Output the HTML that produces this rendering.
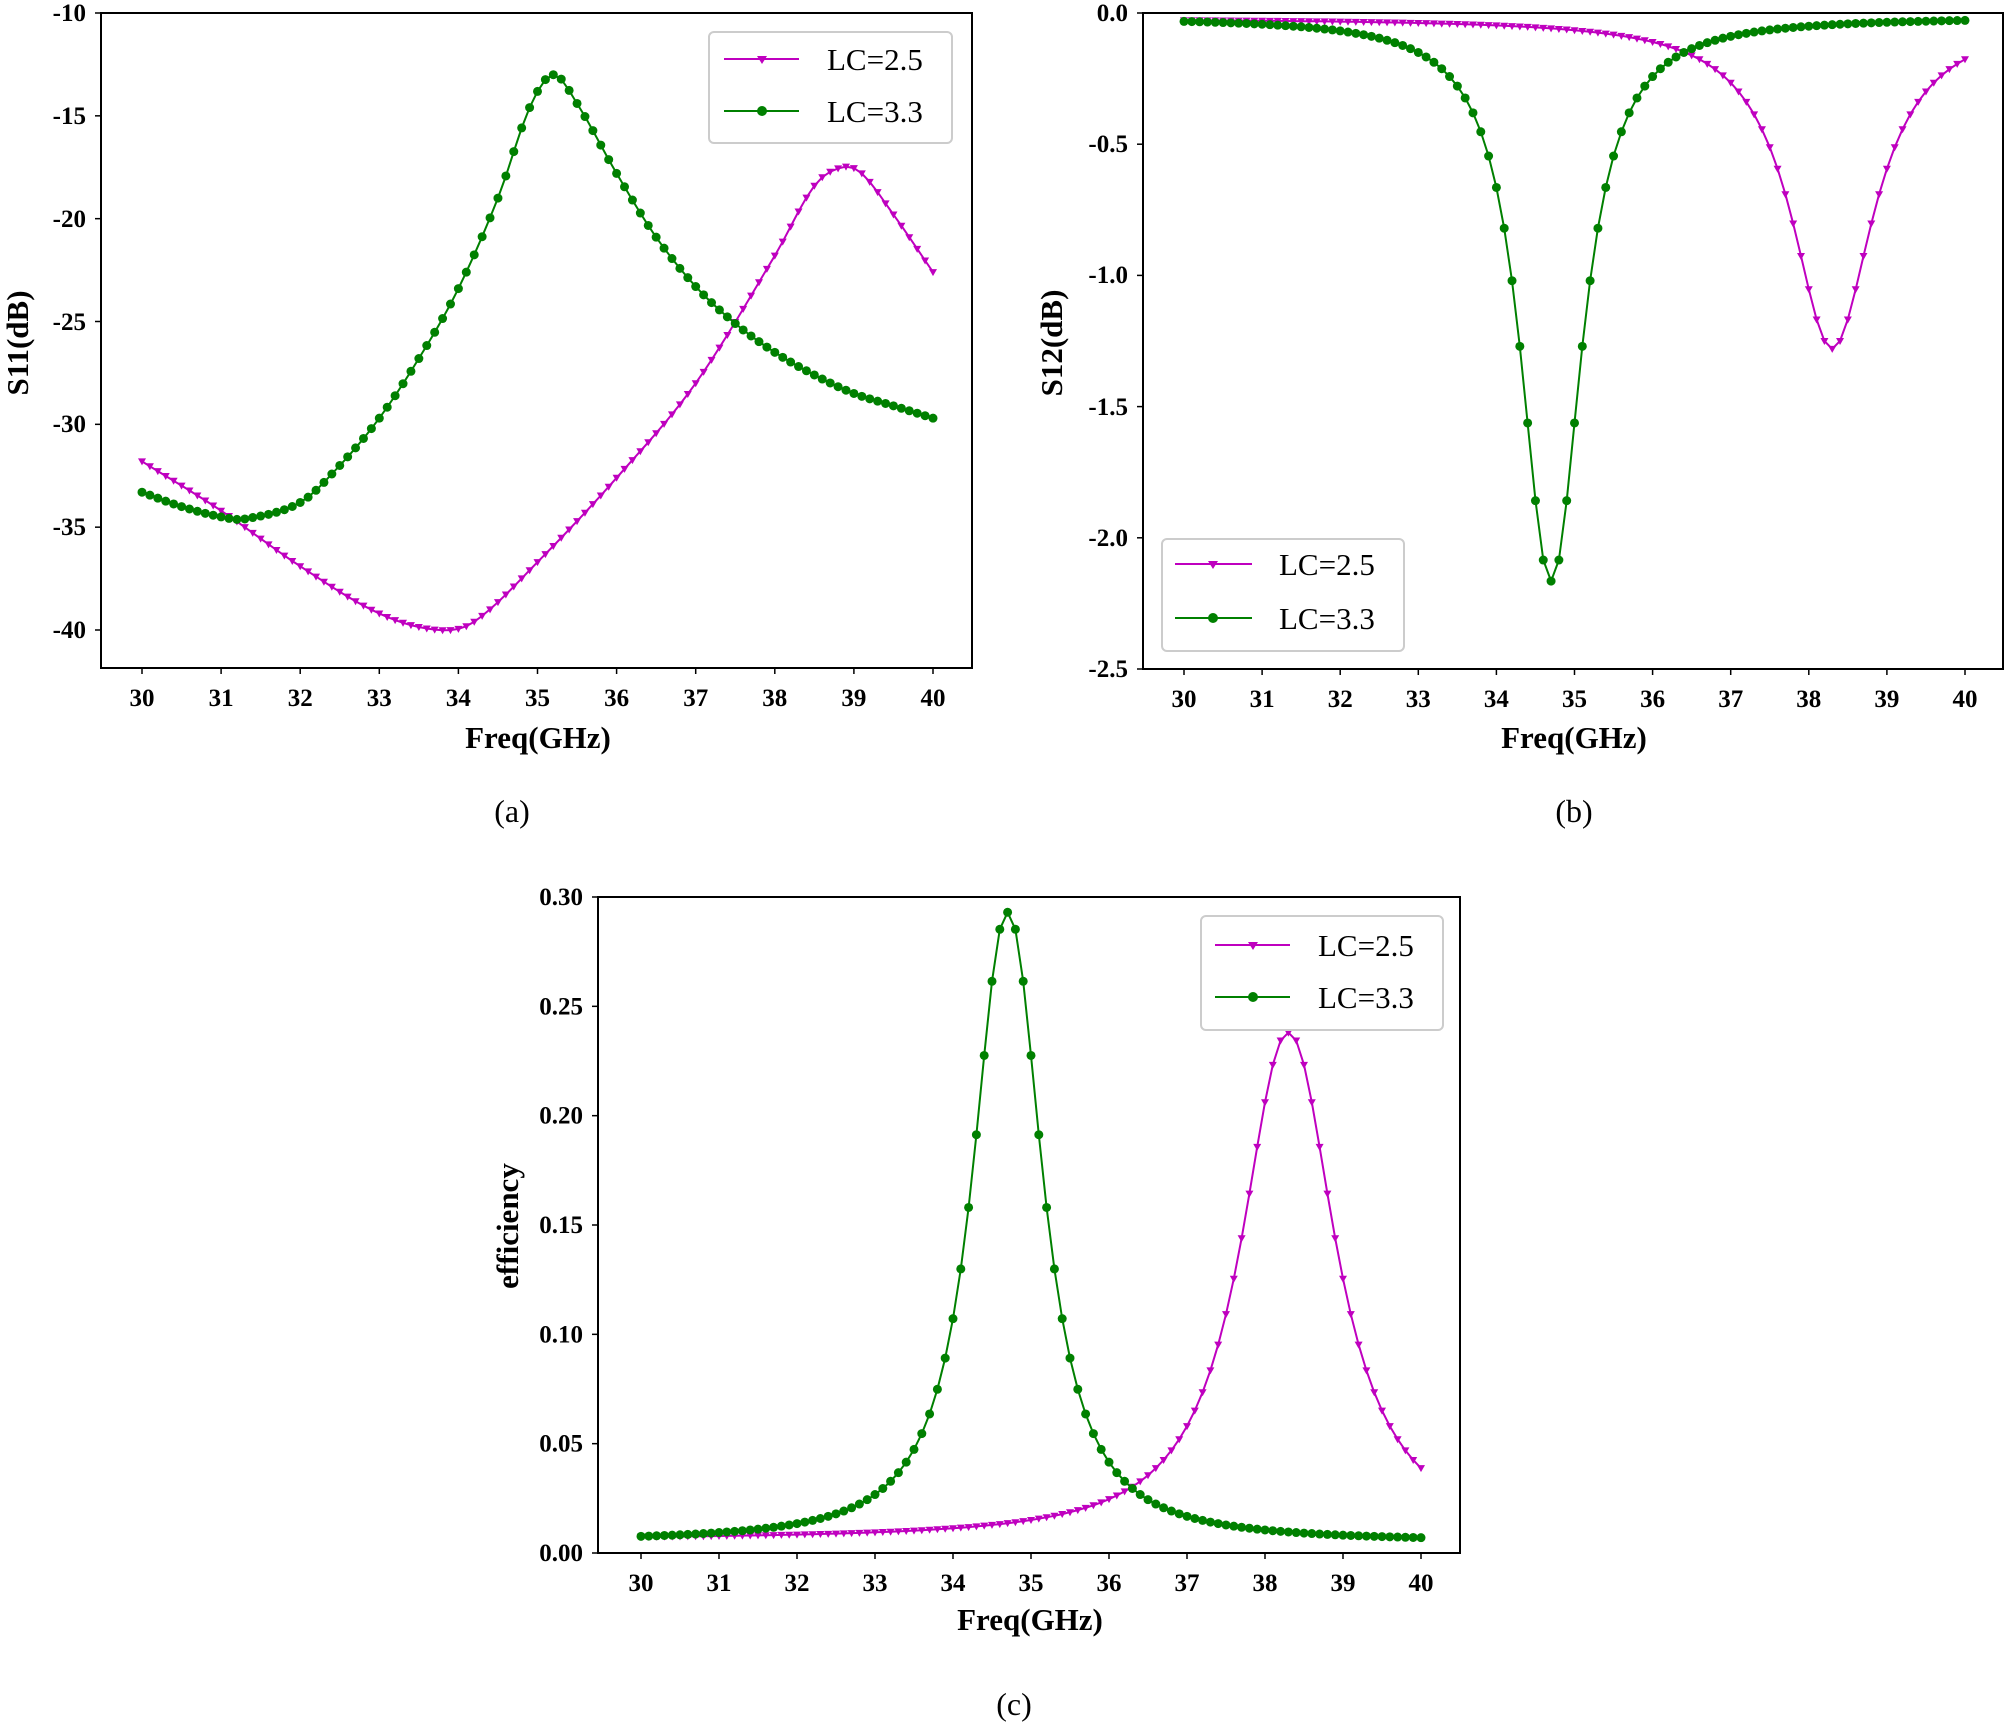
<!DOCTYPE html>
<html><head><meta charset="utf-8">
<style>
html,body{margin:0;padding:0;background:#fff;}
svg{display:block;}
.t{font-family:"Liberation Serif",serif;font-weight:bold;font-size:25px;fill:#000;}
.lab{font-family:"Liberation Serif",serif;font-weight:bold;font-size:31px;fill:#000;}
.leg{font-family:"Liberation Serif",serif;font-size:31px;fill:#000;}
.cap{font-family:"Liberation Serif",serif;font-size:32px;fill:#000;}
</style></head>
<body>
<svg id="s" width="2007" height="1728" xmlns="http://www.w3.org/2000/svg">
<rect width="2007" height="1728" fill="#fff"/>
<g id="ga"></g>
<rect x="101" y="13" width="871" height="655" fill="none" stroke="#000" stroke-width="2"/>
<g class="t" text-anchor="end">
<text x="86" y="21">-10</text><text x="86" y="124">-15</text><text x="86" y="227">-20</text>
<text x="86" y="330">-25</text><text x="86" y="432">-30</text><text x="86" y="535">-35</text><text x="86" y="638">-40</text>
</g>
<g class="t" text-anchor="middle" id="xa"></g>
<text class="lab" x="538" y="748" text-anchor="middle">Freq(GHz)</text>
<text class="lab" transform="translate(28,343) rotate(-90)" text-anchor="middle">S11(dB)</text>
<text class="cap" x="512" y="822" text-anchor="middle">(a)</text>
<rect x="709" y="32" width="243" height="111" rx="5" fill="#fff" stroke="#ccc" stroke-width="2"/>
<line x1="724" y1="59" x2="799" y2="59" stroke="#bf00bf" stroke-width="2"/>
<path d="M757,56 L767,56 L762,64 Z" fill="#bf00bf"/>
<text class="leg" x="827" y="70">LC=2.5</text>
<line x1="724" y1="111" x2="799" y2="111" stroke="#008000" stroke-width="2"/>
<circle cx="762" cy="111" r="5" fill="#008000"/>
<text class="leg" x="827" y="122">LC=3.3</text>

<g id="gb"></g>
<rect x="1143" y="13" width="860" height="656" fill="none" stroke="#000" stroke-width="2"/>
<g class="t" text-anchor="end">
<text x="1128" y="21">0.0</text><text x="1128" y="152">-0.5</text><text x="1128" y="283">-1.0</text>
<text x="1128" y="415">-1.5</text><text x="1128" y="546">-2.0</text><text x="1128" y="677">-2.5</text>
</g>
<g class="t" text-anchor="middle" id="xb"></g>
<text class="lab" x="1574" y="748" text-anchor="middle">Freq(GHz)</text>
<text class="lab" transform="translate(1062,343) rotate(-90)" text-anchor="middle">S12(dB)</text>
<text class="cap" x="1574" y="822" text-anchor="middle">(b)</text>
<rect x="1162" y="539" width="242" height="112" rx="5" fill="#fff" stroke="#ccc" stroke-width="2"/>
<line x1="1175" y1="564" x2="1252" y2="564" stroke="#bf00bf" stroke-width="2"/>
<path d="M1208,561 L1218,561 L1213,569 Z" fill="#bf00bf"/>
<text class="leg" x="1279" y="575">LC=2.5</text>
<line x1="1175" y1="618" x2="1252" y2="618" stroke="#008000" stroke-width="2"/>
<circle cx="1213" cy="618" r="5" fill="#008000"/>
<text class="leg" x="1279" y="629">LC=3.3</text>

<g id="gc"></g>
<rect x="598" y="897" width="862" height="656" fill="none" stroke="#000" stroke-width="2"/>
<g class="t" text-anchor="end" id="yc"></g>
<g class="t" text-anchor="middle" id="xc"></g>
<text class="lab" x="1030" y="1630" text-anchor="middle">Freq(GHz)</text>
<text class="lab" transform="translate(518,1226) rotate(-90)" text-anchor="middle">efficiency</text>
<text class="cap" x="1014" y="1715" text-anchor="middle">(c)</text>
<rect x="1201" y="916" width="242" height="114" rx="5" fill="#fff" stroke="#ccc" stroke-width="2"/>
<line x1="1215" y1="945" x2="1290" y2="945" stroke="#bf00bf" stroke-width="2"/>
<path d="M1248,942 L1258,942 L1253,950 Z" fill="#bf00bf"/>
<text class="leg" x="1318" y="956">LC=2.5</text>
<line x1="1215" y1="997" x2="1290" y2="997" stroke="#008000" stroke-width="2"/>
<circle cx="1253" cy="997" r="5" fill="#008000"/>
<text class="leg" x="1318" y="1008">LC=3.3</text>
</svg>
<script>
var NS="http://www.w3.org/2000/svg";
function el(p,t,a){var e=document.createElementNS(NS,t);for(var k in a)e.setAttribute(k,a[k]);p.appendChild(e);return e;}
function cr(pts,x){
  var i=0;while(i<pts.length-2&&x>pts[i+1][0])i++;
  var p0=pts[Math.max(i-1,0)],p1=pts[i],p2=pts[i+1],p3=pts[Math.min(i+2,pts.length-1)];
  var t=(x-p1[0])/(p2[0]-p1[0]);
  var m1=(p2[1]-p0[1])/(p2[0]-p0[0])*(p2[0]-p1[0]);
  var m2=(p3[1]-p1[1])/(p3[0]-p1[0])*(p2[0]-p1[0]);
  var t2=t*t,t3=t2*t;
  return (2*t3-3*t2+1)*p1[1]+(t3-2*t2+t)*m1+(-2*t3+3*t2)*p2[1]+(t3-t2)*m2;
}
function panel(g,x0,x1,y0v,y0,y1v,y1,f,col,mk){
  var d="",P=[];
  for(var i=0;i<=100;i++){var x=30+i*0.1,v=f(x);
    var px=x0+(x-30)/10*(x1-x0),py=y0+(v-y0v)/(y1v-y0v)*(y1-y0);
    P.push([px,py]);d+=(i?"L":"M")+px.toFixed(1)+","+py.toFixed(1);}
  el(g,"path",{d:d,fill:"none",stroke:col,"stroke-width":2});
  P.forEach(function(p){
    if(mk=="c")el(g,"circle",{cx:p[0],cy:p[1],r:4.5,fill:col});
    else el(g,"path",{d:"M"+(p[0]-4)+","+(p[1]-3)+"L"+(p[0]+4)+","+(p[1]-3)+"L"+p[0]+","+(p[1]+4)+"Z",fill:col});
  });
}
function xt(id,x0,x1,yb){var g=document.getElementById(id);
  for(var i=0;i<=10;i++){var x=x0+i*(x1-x0)/10;
    el(document.getElementById("s"),"line",{x1:x,y1:yb,x2:x,y2:yb+6,stroke:"#000","stroke-width":1.5});
    var t=el(g,"text",{x:x,y:yb+38});t.textContent=30+i;}}
xt("xa",142,933,668);xt("xb",1184,1965,669);xt("xc",641,1421,1553);
var yc=document.getElementById("yc");
for(var i=0;i<=6;i++){var y=1553-i*(656/6);var t=el(yc,"text",{x:583,y:y+8});t.textContent=(i*0.05).toFixed(2);}
var a25=[[30,-31.8],[31,-34.2],[32,-36.9],[33,-39.2],[33.75,-40],[34.2,-39.6],[35,-36.7],[36,-32.6],[37,-28.0],[38,-21.8],[38.5,-18.4],[38.85,-17.5],[39.1,-17.8],[39.5,-19.8],[40,-22.6]];
var a33=[[30,-33.3],[30.5,-34.0],[31,-34.5],[31.3,-34.6],[32,-33.8],[32.5,-32.0],[33,-29.7],[33.5,-26.8],[34,-23.4],[34.5,-19.0],[34.9,-14.6],[35.2,-13.0],[35.5,-14.4],[36,-17.8],[36.5,-20.9],[37,-23.3],[37.5,-25.1],[38,-26.5],[38.5,-27.6],[39,-28.5],[39.5,-29.1],[40,-29.7]];
var ga=document.getElementById("ga");
panel(ga,142,933,-10,13,-40,630,function(x){return cr(a25,x)},"#bf00bf","t");
panel(ga,142,933,-10,13,-40,630,function(x){return cr(a33,x)},"#008000","c");
var gb=document.getElementById("gb");
panel(gb,1184,1965,0,13,-2.5,669,function(x){return -0.02-1.26/(1+Math.pow((x-38.3)/0.64,2))},"#bf00bf","t");
panel(gb,1184,1965,0,13,-2.5,669,function(x){return -0.015-2.15/(1+Math.pow(Math.abs(x-34.7)/0.47,2.1))},"#008000","c");
var gc=document.getElementById("gc");
panel(gc,641,1421,0.3,897,0,1553,function(x){return 0.006+0.232/(1+Math.pow(Math.abs(x-38.3)/0.72,2.1))},"#bf00bf","t");
panel(gc,641,1421,0.3,897,0,1553,function(x){return 0.005+0.288/(1+Math.pow(Math.abs(x-34.7)/0.53,2.15))},"#008000","c");
var s=document.getElementById("s");
[[101,13,630,6],[1143,13,669,5],[598,897,1553,6]].forEach(function(a){
  for(var i=0;i<=a[3];i++){var y=a[1]+i*(a[2]-a[1])/a[3];el(s,"line",{x1:a[0]-6,y1:y,x2:a[0],y2:y,stroke:"#000","stroke-width":1.5});}
});
</script>
</body></html>
